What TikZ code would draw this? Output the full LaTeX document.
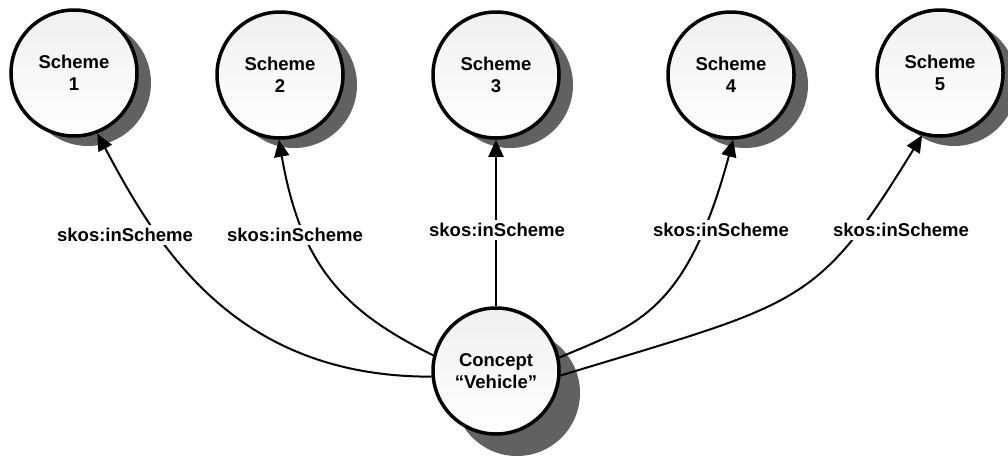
\documentclass[tikz,border=0pt]{standalone}
\usepackage{fontspec}
\setmainfont{Liberation Sans}
\usetikzlibrary{arrows.meta,shadows}
\begin{document}
\begin{tikzpicture}[x=1pt,y=-1pt,
  circ/.style={circle,draw=black,line width=3.5pt,minimum size=126pt,inner sep=0pt,
    top color=black!6,bottom color=white,align=center,
    font=\fontsize{18.5}{22}\selectfont\bfseries},
  sshadow/.style={drop shadow={shadow xshift=14pt,shadow yshift=-10pt,fill=black!62,opacity=1}},
  cshadow/.style={drop shadow={shadow xshift=21pt,shadow yshift=-22pt,fill=black!62,opacity=1}},
  rel/.style={line width=2pt,-{Triangle[length=17pt,width=15pt]}},
  lbl/.style={fill=white,inner sep=3pt,font=\fontsize{18.5}{22}\selectfont\bfseries}]
\useasboundingbox[fill=white] (0,0) rectangle (1008,458);

\node[circ,sshadow] (s1) at (74,73) {Scheme\\1};
\node[circ,sshadow] (s2) at (280,75) {Scheme\\2};
\node[circ,sshadow] (s3) at (496,75) {Scheme\\3};
\node[circ,sshadow] (s4) at (731,75) {Scheme\\4};
\node[circ,sshadow] (s5) at (940,73) {Scheme\\5};
\node[circ,cshadow] (c) at (496,371) {Concept\\“Vehicle”};

\draw[rel] (c.185) .. controls (232,377) and (156,243) .. (s1.-69);
\draw[rel] (c.166) .. controls (344,311) and (301,267) .. (s2.-91);
\draw[rel] (c.north) -- (s3.south);
\draw[rel] (c.12) .. controls (635,325) and (686,315) .. (s4.-88);
\draw[rel] (c.-4) .. controls (802,302) and (816,308) .. (s5.-106);

\node[lbl] (l1) at (125,235) {skos:inScheme};
\node[lbl] (l2) at (295,235) {skos:inScheme};
\node[lbl] (l3) at (497,230) {skos:inScheme};
\node[lbl] (l4) at (721,230) {skos:inScheme};
\node[lbl] (l5) at (901,230) {skos:inScheme};
\end{tikzpicture}
\end{document}
